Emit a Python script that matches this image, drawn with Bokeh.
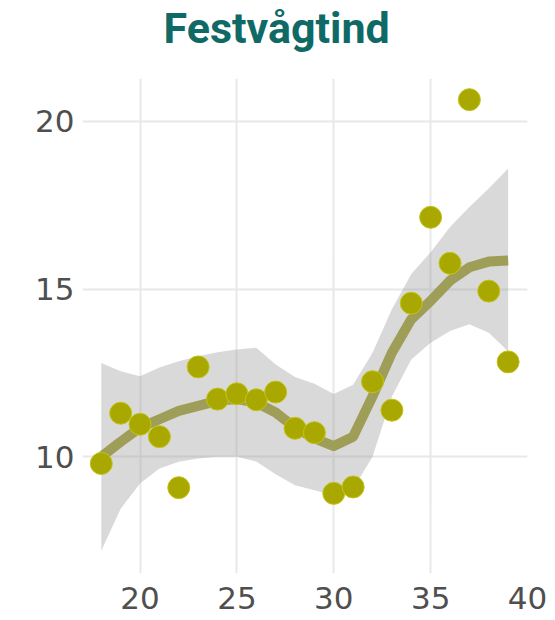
from bokeh.plotting import figure
from bokeh.models import FixedTicker, Range1d, Title
from bokeh.embed import file_html
from bokeh.resources import INLINE

# Data
x_vals = list(range(18, 40))
y_vals = [9.8, 11.3, 10.97, 10.6, 9.08, 12.68, 11.72, 11.88, 11.7, 11.93, 10.85,
          10.72, 8.91, 9.1, 12.24, 11.39, 14.58, 17.14, 15.77, 20.65, 14.94, 12.83]
fit_vals = [10.0, 10.45, 10.87, 11.12, 11.37, 11.52, 11.67, 11.72, 11.62, 11.32, 10.87,
            10.55, 10.32, 10.6, 11.8, 13.1, 14.1, 14.65, 15.25, 15.65, 15.82, 15.85]
upper_vals = [12.8, 12.55, 12.4, 12.66, 12.85, 13.0, 13.12, 13.2, 13.25, 12.75, 12.38,
              12.18, 11.87, 12.15, 13.1, 14.4, 15.45, 16.1, 16.85, 17.45, 18.0, 18.6]
lower_vals = [7.2, 8.45, 9.2, 9.65, 9.85, 9.95, 10.0, 10.0, 9.86, 9.48, 9.15,
              9.0, 8.85, 9.05, 10.0, 11.8, 12.9, 13.4, 13.75, 13.95, 13.7, 13.15]
x_ticks = [20, 25, 30, 35, 40]
y_ticks = [10, 15, 20]
title_text = "Festvågtind"

p = figure(width=555, height=620, output_backend="svg", toolbar_location=None,
           x_range=Range1d(17.03, 40.0), y_range=Range1d(6.52, 21.28),
           min_border_left=82, min_border_right=28, min_border_top=77,
           min_border_bottom=47)

# spacer between title and frame
spacer = Title(text=" ", text_font_size="12px", standoff=6)
p.add_layout(spacer, "above")

p.title.text = title_text
p.title.text_font = "Roboto"
p.title.text_font_style = "bold"
p.title.text_font_size = "43px"
p.title.text_color = "#0f6a66"
p.title.align = "left"
p.title.offset = 81
p.title.standoff = 4
p.title.vertical_align = "top"

p.outline_line_color = None
p.background_fill_color = "white"
p.border_fill_color = "white"

for ax in (p.xaxis[0], p.yaxis[0]):
    ax.axis_line_color = None
    ax.major_tick_line_color = None
    ax.minor_tick_line_color = None
    ax.major_label_text_font = "DejaVu Sans"
    ax.major_label_text_font_size = "31px"
    ax.major_label_text_color = "#4f4f4f"

p.xaxis.ticker = FixedTicker(ticks=x_ticks)
p.yaxis.ticker = FixedTicker(ticks=y_ticks)
p.xaxis.major_label_standoff = 7
p.yaxis.major_label_standoff = 2

p.xgrid.ticker = FixedTicker(ticks=[t for t in x_ticks if t < 40])
p.ygrid.ticker = FixedTicker(ticks=y_ticks)
p.xgrid.grid_line_color = "#e8e8e8"
p.ygrid.grid_line_color = "#e8e8e8"
p.xgrid.grid_line_width = 2
p.ygrid.grid_line_width = 2

p.varea(x=x_vals, y1=lower_vals, y2=upper_vals, fill_color="#9a9a9a", fill_alpha=0.38)
p.line(x=x_vals, y=fit_vals, line_color="#9e9e58", line_width=10, line_join="round")
p.scatter(x=x_vals, y=y_vals, size=22, fill_color="#a8a800", line_color="#c4c41a",
          line_width=1)

open("out.html", "w").write(file_html(p, INLINE))
